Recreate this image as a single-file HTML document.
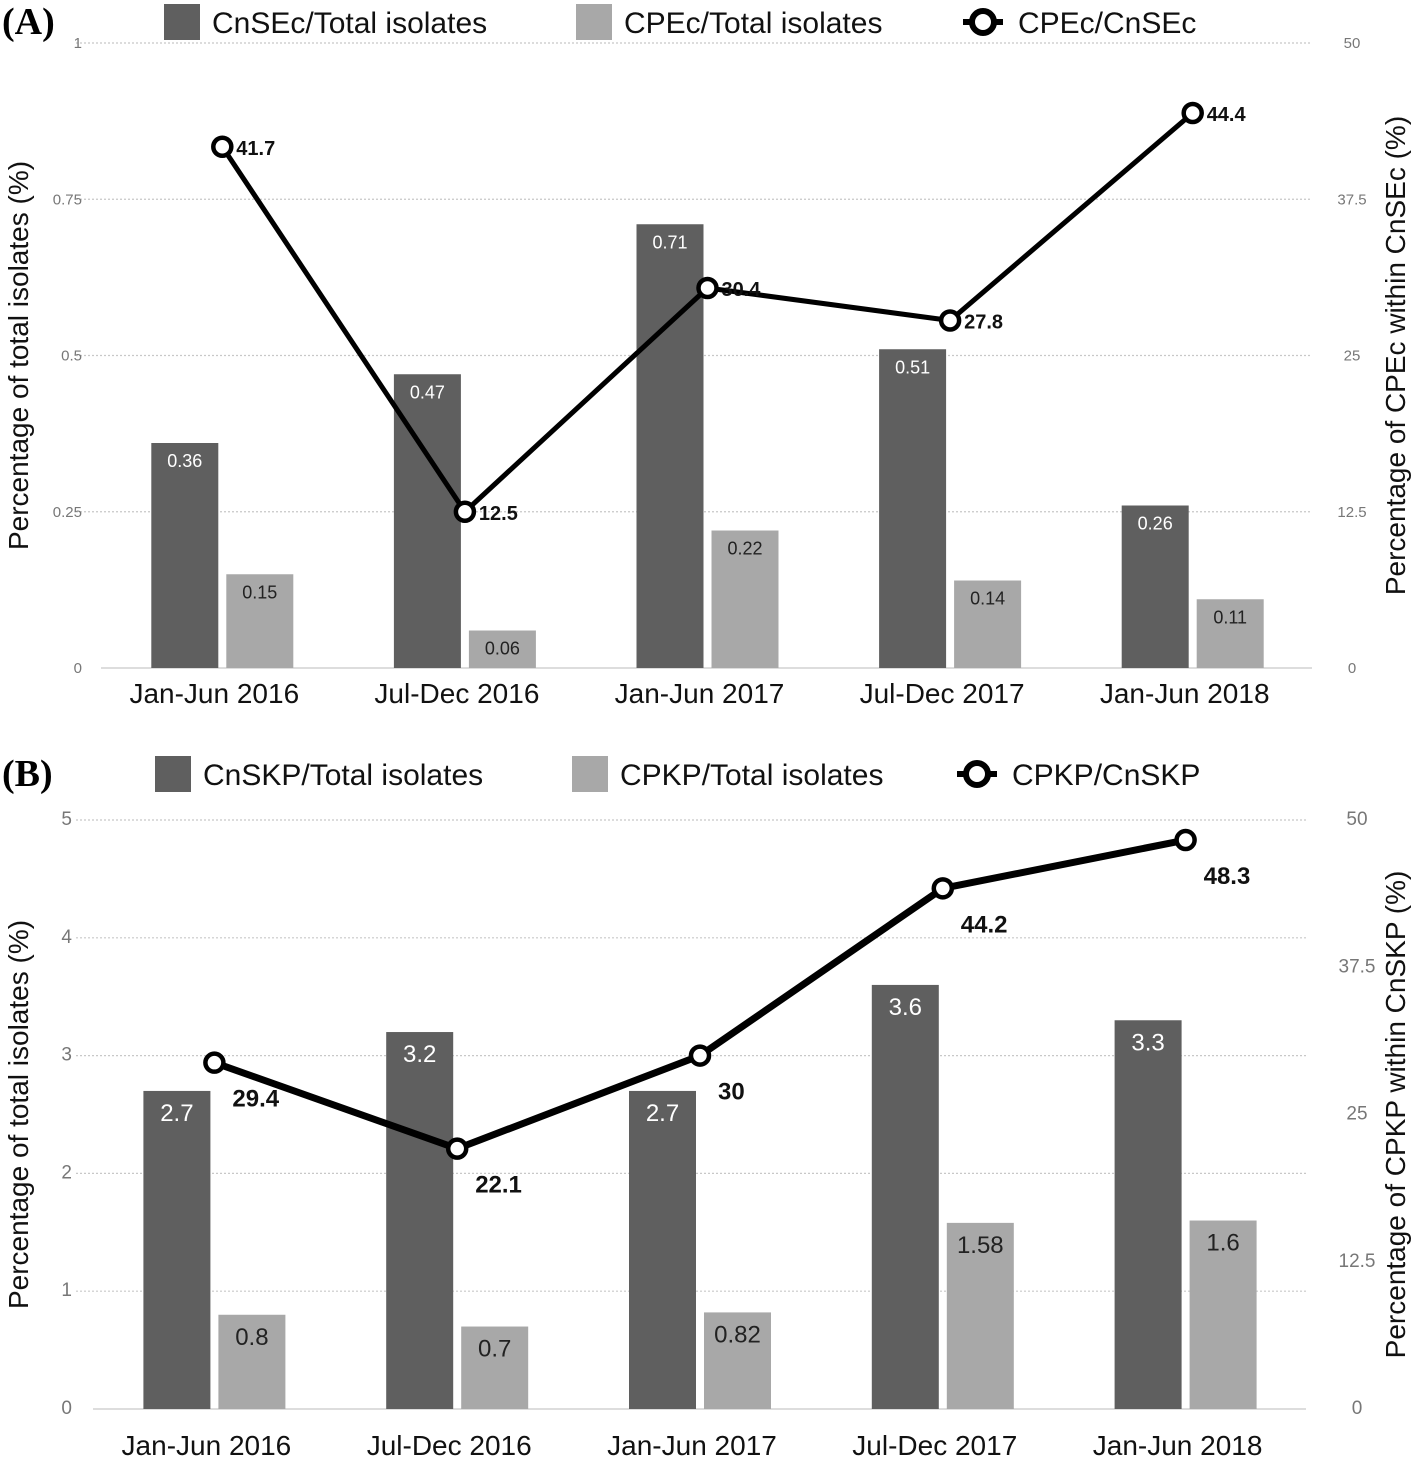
<!DOCTYPE html>
<html><head><meta charset="utf-8"><style>
body{margin:0;background:#fff;}
svg{display:block;}
</style></head><body>
<svg id="chart" width="1416" height="1461" xmlns="http://www.w3.org/2000/svg"></svg>
<script>
const categories = ["Jan-Jun 2016","Jul-Dec 2016","Jan-Jun 2017","Jul-Dec 2017","Jan-Jun 2018"];
const cnsecValues = [0.36,0.47,0.71,0.51,0.26];
const cpecValues = [0.15,0.06,0.22,0.14,0.11];
const cpecRatio = [41.7,12.5,30.4,27.8,44.4];
const leftTicksA = [0,0.25,0.5,0.75,1];
const leftTickLabelsA = ["0","0.25","0.5","0.75","1"];
const rightTicksA = [0,12.5,25,37.5,50];
const rightTickLabelsA = ["0","12.5","25","37.5","50"];
const cnskpValues = [2.7,3.2,2.7,3.6,3.3];
const cpkpValues = [0.8,0.7,0.82,1.58,1.6];
const cpkpRatio = [29.4,22.1,30,44.2,48.3];
const leftTicksB = [0,1,2,3,4,5];
const leftTickLabelsB = ["0","1","2","3","4","5"];
const rightTicksB = [0,12.5,25,37.5,50];
const rightTickLabelsB = ["0","12.5","25","37.5","50"];

const NS="http://www.w3.org/2000/svg";
const svg=document.getElementById('chart');
function mk(tag,attrs,parent,text){const e=document.createElementNS(NS,tag);for(const k in attrs)e.setAttribute(k,attrs[k]);if(text!==undefined)e.textContent=text;(parent||svg).appendChild(e);return e;}

function panel(cfg){
  const g=mk('g',{});
  
  
  const yL=v=>cfg.y0-(v/cfg.lmax)*(cfg.y0-cfg.y1);
  const yR=v=>cfg.y0-(v/cfg.rmax)*(cfg.y0-cfg.y1);
  const band=cfg.band;
  const cx=i=>cfg.x0+band*(i+0.5);
  const pl=mk('text',{x:2,y:cfg.labelY,'font-family':'Liberation Serif, serif','font-weight':'bold','font-size':38,fill:'#000'},g,cfg.label);
  
  
  cfg.lticks.forEach((t,i)=>{
    const y=yL(t);
    if(t>0){const l=mk('line',{x1:76,x2:cfg.gridEnd,y1:y,y2:y,stroke:'#c8c8c8','stroke-width':1.2,'stroke-dasharray':'2,2'},g);
      
      }
    const tx=mk('text',{x:cfg.ltx,y:y+5,'text-anchor':'end','font-family':'Liberation Sans, sans-serif','font-size':cfg.tickFs,fill:'#777'},g,cfg.ltickLabels[i]);
    
    
  });
  cfg.rticks.forEach((t,i)=>{
    const tx=mk('text',{x:cfg.rtx,y:yR(t)+5,'text-anchor':'middle','font-family':'Liberation Sans, sans-serif','font-size':cfg.tickFs,fill:'#777'},g,cfg.rtickLabels[i]);
    
    
  });
  const base=mk('line',{x1:cfg.x0,x2:cfg.gridEnd,y1:cfg.y0,y2:cfg.y0,stroke:'#ddd','stroke-width':2},g);
  
  
  const bw=67;
  categories.forEach((c,i)=>{
    const xc=cx(i);
    const yd=yL(cfg.dark[i]);
    const b1=mk('rect',{x:xc-4-bw,y:yd,width:bw,height:cfg.y0-yd,fill:'#5f5f5f'},g);
    
    
    const t1=mk('text',{x:xc-4-bw/2,y:yd+cfg.valOff,'text-anchor':'middle','font-family':'Liberation Sans, sans-serif','font-size':cfg.valFs,fill:'#fff'},g,String(cfg.dark[i]));
    
    
    const yl=yL(cfg.light[i]);
    const b2=mk('rect',{x:xc+4,y:yl,width:bw,height:cfg.y0-yl,fill:'#a8a8a8'},g);
    
    
    const t2=mk('text',{x:xc+4+bw/2,y:yl+cfg.valOff,'text-anchor':'middle','font-family':'Liberation Sans, sans-serif','font-size':cfg.valFs,fill:'#222'},g,String(cfg.light[i]));
    
    
    const cl=mk('text',{x:xc-8,y:cfg.y0+cfg.catOff,'text-anchor':'middle','font-family':'Liberation Sans, sans-serif','font-size':28,fill:'#111'},g,c);
    
    
  });
  const pts=cfg.ratio.map((v,i)=>cx(i)+','+yR(v)).join(' ');
  const pl2=mk('polyline',{points:pts,fill:'none',stroke:'#000','stroke-width':cfg.lw,'stroke-linejoin':'round'},g);
  
  
  cfg.ratio.forEach((v,i)=>{
    const c=mk('circle',{cx:cx(i),cy:yR(v),r:9,fill:'#fff',stroke:'#000','stroke-width':4.5},g);
    
    
    const t=mk('text',{x:cx(i)+cfg.rlx,y:yR(v)+cfg.rly,'font-family':'Liberation Sans, sans-serif','font-weight':'bold','font-size':cfg.rlFs,fill:'#111'},g,String(v));
    
    
  });
  const lt=mk('text',{transform:`translate(28,${(cfg.y0+cfg.y1)/2}) rotate(-90)`,'text-anchor':'middle','font-family':'Liberation Sans, sans-serif','font-size':28,fill:'#111'},g,'Percentage of total isolates (%)');
  
  
  const rt=mk('text',{transform:`translate(1405,${(cfg.y0+cfg.y1)/2}) rotate(-90)`,'text-anchor':'middle','font-family':'Liberation Sans, sans-serif','font-size':28,fill:'#111'},g,cfg.rtitle);
  
  
  const L=cfg.legend;
  const s1=mk('rect',{x:L.x1,y:L.y-18,width:36,height:36,fill:'#5f5f5f'},g);
  
  
  const lt1=mk('text',{x:L.x1+48,y:L.y+11,'font-family':'Liberation Sans, sans-serif','font-size':30,fill:'#111'},g,L.t1);
  
  
  const s2=mk('rect',{x:L.x2,y:L.y-18,width:36,height:36,fill:'#a8a8a8'},g);
  
  
  const lt2=mk('text',{x:L.x2+48,y:L.y+11,'font-family':'Liberation Sans, sans-serif','font-size':30,fill:'#111'},g,L.t2);
  
  
  const ll=mk('line',{x1:L.x3-20,x2:L.x3+20,y1:L.y,y2:L.y,stroke:'#000','stroke-width':6},g);
  
  
  const lc=mk('circle',{cx:L.x3,cy:L.y,r:11,fill:'#fff',stroke:'#000','stroke-width':6},g);
  
  
  const lt3=mk('text',{x:L.x3+35,y:L.y+11,'font-family':'Liberation Sans, sans-serif','font-size':30,fill:'#111'},g,L.t3);
  
  
}

panel({name:'panel-a',label:'(A)',labelY:34,x0:101,band:242.6,y0:668,y1:43,lmax:1,rmax:50,
  lticks:leftTicksA,ltickLabels:leftTickLabelsA,rticks:rightTicksA,rtickLabels:rightTickLabelsA,
  ltx:82,rtx:1352,tickFs:15,gridEnd:1312,dark:cnsecValues,light:cpecValues,ratio:cpecRatio,
  valOff:24,valFs:18,lw:5,rlx:14,rly:8,rlFs:20,catOff:35,rtitle:'Percentage of CPEc within CnSEc (%)',
  legend:{y:22,x1:164,x2:576,x3:983,t1:'CnSEc/Total isolates',t2:'CPEc/Total isolates',t3:'CPEc/CnSEc'}});
panel({name:'panel-b',label:'(B)',labelY:786,x0:93,band:242.8,y0:1409,y1:820,lmax:5,rmax:50,
  lticks:leftTicksB,ltickLabels:leftTickLabelsB,rticks:rightTicksB,rtickLabels:rightTickLabelsB,
  ltx:72,rtx:1357,tickFs:19,gridEnd:1306,dark:cnskpValues,light:cpkpValues,ratio:cpkpRatio,
  valOff:30,valFs:24,lw:7,rlx:18,rly:44,rlFs:24,catOff:46,rtitle:'Percentage of CPKP within CnSKP (%)',
  legend:{y:774,x1:155,x2:572,x3:977,t1:'CnSKP/Total isolates',t2:'CPKP/Total isolates',t3:'CPKP/CnSKP'}});
</script>
</body></html>
